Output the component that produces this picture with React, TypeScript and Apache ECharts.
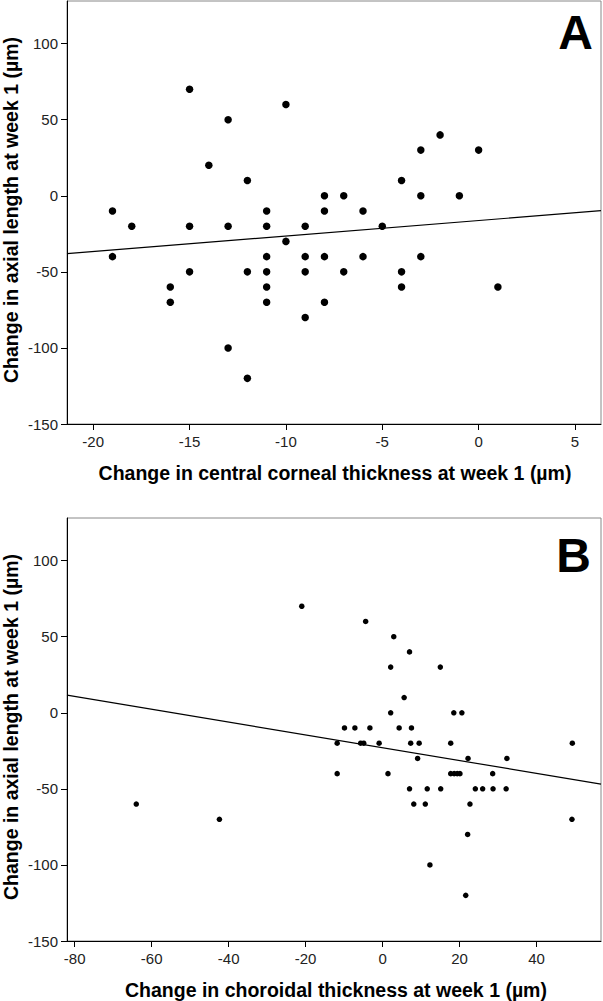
import React, { useEffect, useRef } from "react";
import * as echarts from "echarts";

// Panel A: change in central corneal thickness (x) vs change in axial length (y)
const xA = [-15,-10,-13,-14,-12,-8,-19,-11,-8,-2,-3,0,-4,-7,-3,-1,-6,-18,-15,-13,-11,-9,-10,-19,-11,-9,-8,-15,-12,-11,-9,-16,-11,-16,-11,-8,-9,-13,-12,-5,-6,-3,-7,-4,-4,1];
const yA = [70,60,50,20,10,0,-10,-10,-10,40,30,30,10,0,0,0,-10,-20,-20,-20,-20,-20,-30,-40,-40,-40,-40,-50,-50,-50,-50,-60,-60,-70,-70,-70,-80,-100,-120,-20,-40,-40,-50,-50,-60,-60];

// Panel B: change in choroidal thickness (x) vs change in axial length (y)
const xB = [-21,-4.4,2.9,7,2.1,15,5.6,2.1,18.5,20.6,-9.9,-7.2,-3.3,4.3,7.5,-11.8,-5.7,-4.9,-0.9,7.3,9.5,17.7,49.3,9.1,22.2,32.3,-11.8,1.4,17.7,18.6,19.4,20.1,28.6,7,11.6,15.1,24.1,26,28.7,32.1,8.1,11.1,22.7,-64,49.2,-42.4,22.1,12.3,21.6];
const yB = [70,60,50,40,30,30,10,0,0,0,-10,-10,-10,-10,-10,-20,-20,-20,-20,-20,-20,-20,-20,-30,-30,-30,-40,-40,-40,-40,-40,-40,-40,-50,-50,-50,-50,-50,-50,-50,-60,-60,-60,-60,-70,-70,-80,-100,-120];

// Fit lines (endpoints)
const fitA = [[-21.36, -38], [6.35, -9.8]];
const fitB = [[-82, 11.6], [56.75, -46.9]];

const ticksXA = [-20, -15, -10, -5, 0, 5];
const ticksXB = [-80, -60, -40, -20, 0, 20, 40];
const ticksY = [-150, -100, -50, 0, 50, 100];

const rangeXA = [-21.36, 6.35];
const rangeXB = [-82, 56.75];
const rangeY = [-150, 128];

const titleXA = "Change in central corneal thickness at week 1 (µm)";
const titleXB = "Change in choroidal thickness at week 1 (µm)";
const titleY = "Change in axial length at week 1 (µm)";

const FONT = "Arial, 'Liberation Sans', sans-serif";

export default function App() {
  const ref = useRef<HTMLDivElement>(null);
  useEffect(() => {
    document.body.style.margin = "0";
    const chart = echarts.init(ref.current!, null, { renderer: "svg" });
    const mkX = (idx: number, range: number[], ticks: number[]) => ({
      type: "value",
      gridIndex: idx,
      min: range[0],
      max: range[1],
      axisLine: { show: true, onZero: false, lineStyle: { color: "#000", width: 1 } },
      axisTick: { show: true, length: 6, customValues: ticks, lineStyle: { color: "#000" } },
      axisLabel: { customValues: ticks, margin: 10, color: "#222", fontSize: 15, fontFamily: FONT },
      splitLine: { show: false },
    });
    const mkY = (idx: number) => ({
      type: "value",
      gridIndex: idx,
      min: rangeY[0],
      max: rangeY[1],
      axisLine: { show: true, onZero: false, lineStyle: { color: "#000", width: 1 } },
      axisTick: { show: true, length: 6, customValues: ticksY, lineStyle: { color: "#000" } },
      axisLabel: { customValues: ticksY, margin: 9, color: "#222", fontSize: 15, fontFamily: FONT },
      splitLine: { show: false },
    });
    const titleStyle = { font: `bold 19.5px ${FONT}`, fill: "#000", textAlign: "center", textVerticalAlign: "middle" };
    chart.setOption({
      animation: false,
      backgroundColor: "#fff",
      grid: [
        { left: 67, top: 1, width: 534, height: 423, show: true, borderColor: "#888", borderWidth: 1 },
        { left: 67, top: 518, width: 534, height: 423, show: true, borderColor: "#888", borderWidth: 1 },
      ],
      xAxis: [mkX(0, rangeXA, ticksXA), mkX(1, rangeXB, ticksXB)],
      yAxis: [mkY(0), mkY(1)],
      series: [
        {
          type: "scatter", xAxisIndex: 0, yAxisIndex: 0, symbolSize: 7.5,
          itemStyle: { color: "#000", opacity: 1 },
          data: xA.map((x, i) => [x, yA[i]]),
        },
        {
          type: "line", xAxisIndex: 0, yAxisIndex: 0, symbol: "none",
          lineStyle: { color: "#000", width: 1.2 }, data: fitA,
        },
        {
          type: "scatter", xAxisIndex: 1, yAxisIndex: 1, symbolSize: 5.5,
          itemStyle: { color: "#000", opacity: 1 },
          data: xB.map((x, i) => [x, yB[i]]),
        },
        {
          type: "line", xAxisIndex: 1, yAxisIndex: 1, symbol: "none",
          lineStyle: { color: "#000", width: 1.2 }, data: fitB,
        },
      ],
      graphic: [
        { type: "text", x: 11, y: 210, rotation: Math.PI / 2, style: { ...titleStyle, text: titleY } },
        { type: "text", x: 11, y: 727, rotation: Math.PI / 2, style: { ...titleStyle, text: titleY } },
        { type: "text", x: 335, y: 473, style: { ...titleStyle, text: titleXA } },
        { type: "text", x: 336, y: 990, style: { ...titleStyle, text: titleXB } },
        { type: "text", x: 593, y: 32, style: { text: "A", font: `bold 48px ${FONT}`, fill: "#000", textAlign: "right", textVerticalAlign: "middle" } },
        { type: "text", x: 591, y: 555, style: { text: "B", font: `bold 48px ${FONT}`, fill: "#000", textAlign: "right", textVerticalAlign: "middle" } },
      ],
    });
    return () => chart.dispose();
  }, []);
  return <div ref={ref} style={{ position: "absolute", left: 0, top: 0, width: 603, height: 1001 }} />;
}
